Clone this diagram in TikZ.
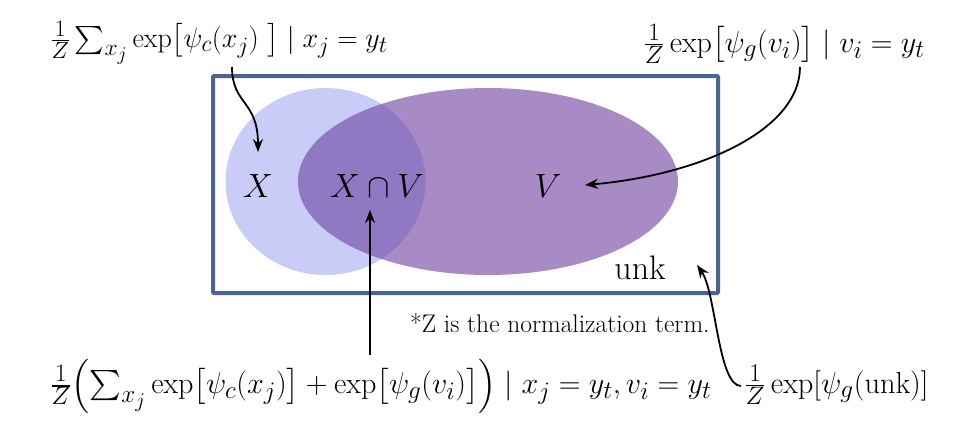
\documentclass[tikz,border=0pt]{standalone}
\usepackage{amsmath}
\usepackage{graphicx}
\usetikzlibrary{arrows.meta}
\definecolor{boxblue}{HTML}{4A6590}
\definecolor{lightc}{HTML}{CACCF8}
\definecolor{purp}{HTML}{A88BC4}
\definecolor{inter}{HTML}{9178C2}
\begin{document}
\begin{tikzpicture}[x=1pt,y=-1pt,
  arr/.style={line width=1.8pt,-{Stealth[length=13pt,width=10pt]}},
  mth/.style={font=\Huge, inner sep=0pt},
  note/.style={font=\fontsize{25.5}{28}\selectfont, inner sep=0pt}]
\useasboundingbox (0,0) rectangle (970,432);
\fill[lightc] (325.5,181.5) ellipse [x radius=100, y radius=93.5];
\fill[purp] (488,181.5) ellipse [x radius=190, y radius=93.5];
\begin{scope}
  \clip (325.5,181.5) ellipse [x radius=100, y radius=93.5];
  \fill[inter] (488,181.5) ellipse [x radius=190, y radius=93.5];
\end{scope}
\draw[boxblue, line width=4pt, rounded corners=1pt] (213,76) rectangle (718,293);
\node[mth] (X) at (258,186) {\scalebox{1.35}{$X$}};
\node[mth] (XV) at (377,186) {\scalebox{1.35}{$X\cap V$}};
\node[mth] (V) at (548,186) {\scalebox{1.35}{$V$}};
\node[inner sep=0pt, font=\fontsize{34}{38}\selectfont] (unk) at (640,268) {unk};
\node[mth, anchor=west] (f1) at (50,43) {\scalebox{1.13}{$\tfrac{1}{Z}\sum_{x_j}\exp\bigl[\psi_c(x_j)\ \bigr]\mid x_j=y_t$}};
\node[mth, anchor=east] (f2) at (925,44) {\scalebox{1.21}{$\tfrac{1}{Z}\exp\bigl[\psi_g(v_i)\bigr]\mid v_i=y_t$}};
\node[mth, anchor=west] (f3) at (50,386) {\scalebox{1.21}{$\tfrac{1}{Z}\Bigl(\sum_{x_j}\exp\bigl[\psi_c(x_j)\bigr]+\exp\bigl[\psi_g(v_i)\bigr]\Bigr)\mid x_j=y_t,v_i=y_t$}};
\node[mth, anchor=west] (f4) at (744,385) {\scalebox{1.22}{$\tfrac{1}{Z}\exp[\psi_g(\mathrm{unk})]$}};
\node[note, anchor=west] (n) at (410,323) {*Z is the normalization term.};
\coordinate (s1) at (232,67);
\coordinate (t1) at (258,152);
\coordinate (s2) at (800,67);
\coordinate (t2) at (585,185);
\coordinate (s3) at (370,355);
\coordinate (t3) at (370,210);
\coordinate (s4) at (741,386);
\coordinate (t4) at (697,265);
\draw[arr] (s1) .. controls (232,105) and (258,100) .. (t1);
\draw[arr] (s2) .. controls (800,130) and (700,175) .. (t2);
\draw[arr] (s3) -- (t3);
\draw[arr] (s4) .. controls (718,386) and (716,292) .. (t4);
\end{tikzpicture}
\end{document}
